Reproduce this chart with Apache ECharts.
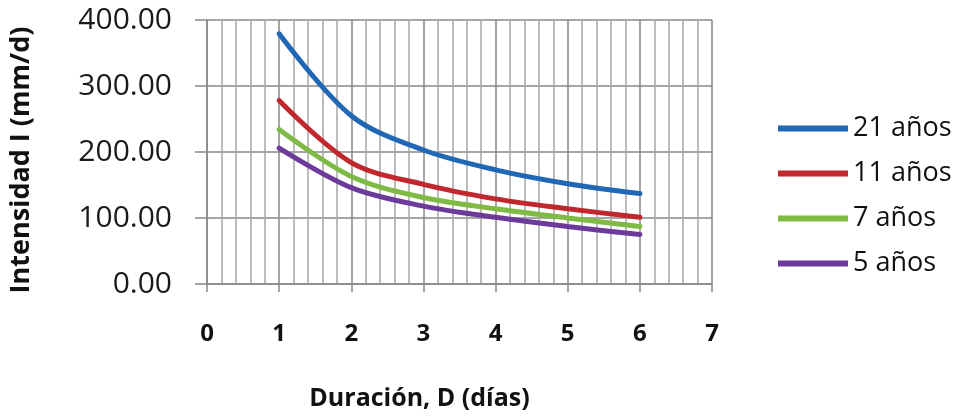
<!DOCTYPE html>
<html>
<head>
<meta charset="utf-8">
<script src="https://cdn.jsdelivr.net/npm/echarts@6/dist/echarts.min.js"></script>
<style>html,body{margin:0;padding:0;background:#fff}#c{width:963px;height:416px}</style>
</head>
<body>
<div id="c"></div>
<script>
var durations = [1, 2, 3, 4, 5, 6];
var seriesNames = ['21 años', '11 años', '7 años', '5 años'];
var s21 = [379, 255, 203, 173, 152, 137];
var s11 = [278, 184, 151, 129, 114, 101];
var s7 = [234, 163, 131, 114, 100, 87];
var s5 = [206, 146, 118, 101, 87, 75];
var xTicks = [0, 1, 2, 3, 4, 5, 6, 7];
var yTicks = [0, 100, 200, 300, 400];
var colors = ['#2067B5', '#C0282E', '#7EBA44', '#6B3A9A'];
var allValues = [s21, s11, s7, s5];

var font = 'Open Sans';
var chart = echarts.init(document.getElementById('c'));
chart.setOption({
  animation: false,
  grid: {left: 200, top: 20, right: 251, bottom: 127, containLabel: false},
  legend: {
    orient: 'vertical', left: 773, top: 110, itemWidth: 70, itemHeight: 6, itemGap: 18,
    icon: 'rect',
    textStyle: {fontFamily: font, fontSize: 27, color: '#111'},
    data: seriesNames
  },
  xAxis: {
    type: 'value', min: xTicks[0], max: xTicks[xTicks.length - 1], interval: 1,
    name: 'Duración, D (días)', nameLocation: 'middle', nameGap: 102,
    nameTextStyle: {fontFamily: font, fontSize: 25, fontWeight: 'bold', color: '#111', padding: [0, 80, 0, 0]},
    axisLine: {show: true, lineStyle: {color: '#888', width: 1.5}},
    axisTick: {show: true, length: 8, lineStyle: {color: '#888', width: 1.5}},
    axisLabel: {fontFamily: font, fontSize: 24, fontWeight: 'bold', color: '#111', margin: 38},
    splitLine: {show: true, lineStyle: {color: '#888', width: 1.5}},
    minorTick: {show: false, splitNumber: 5},
    minorSplitLine: {show: true, lineStyle: {color: '#A6A6A6', width: 1.5}}
  },
  yAxis: {
    type: 'value', min: yTicks[0], max: yTicks[yTicks.length - 1], interval: 100,
    name: 'Intensidad I (mm/d)', nameLocation: 'middle', nameGap: 172, nameRotate: 90,
    nameTextStyle: {fontFamily: font, fontSize: 27, fontWeight: 'bold', color: '#111', padding: [0, 16, 0, 0]},
    axisLine: {show: true, lineStyle: {color: '#888', width: 1.5}},
    axisTick: {show: true, length: 12, lineStyle: {color: '#888', width: 1.5}},
    axisLabel: {fontFamily: font, fontSize: 30, color: '#1a1a1a', margin: 35,
      formatter: function (v) { return v.toFixed(2); }},
    splitLine: {show: true, lineStyle: {color: '#888', width: 1.5}}
  },
  series: seriesNames.map(function (n, i) {
    return {
      name: n, type: 'line', smooth: 0.33, symbol: 'none',
      color: colors[i],
      lineStyle: {width: 5, color: colors[i], cap: 'round'},
      data: durations.map(function (d, j) { return [d, allValues[i][j]]; })
    };
  })
});
</script>
</body>
</html>
